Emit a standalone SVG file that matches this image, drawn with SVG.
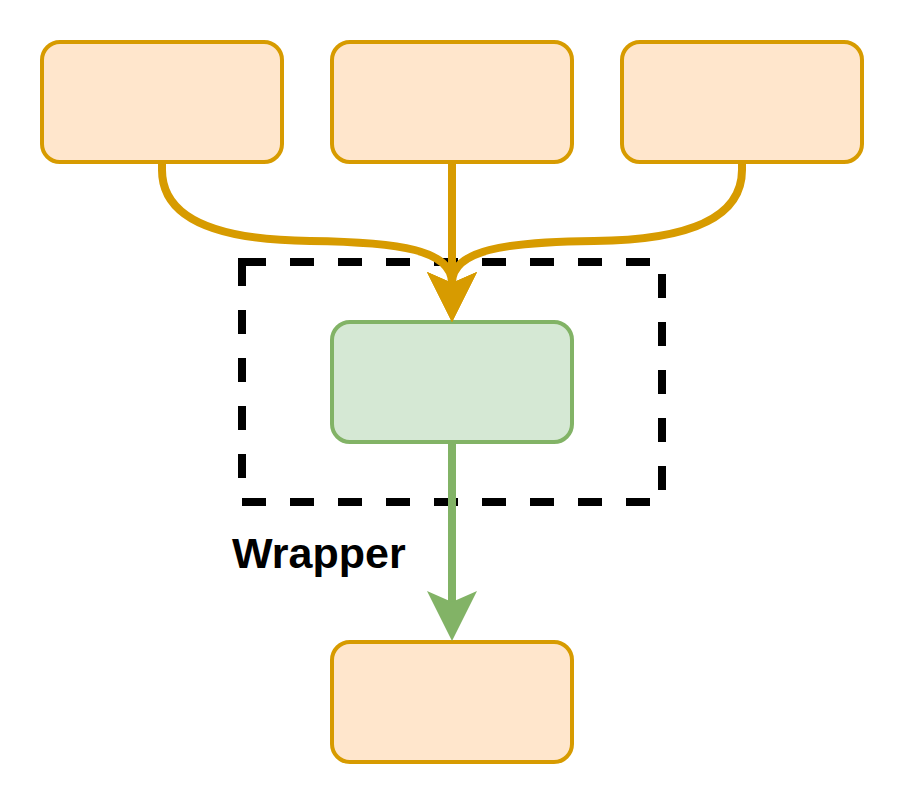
<svg xmlns="http://www.w3.org/2000/svg" width="904" height="804" viewBox="0 0 904 804">
  <style>
    .box { stroke-width: 4; }
    .orange { fill: #ffe6cc; stroke: #d79b00; }
    .green { fill: #d5e8d4; stroke: #82b366; }
    .wrapper { fill: none; stroke: #000000; stroke-width: 8; stroke-dasharray: 24 24; }
    .edge { fill: none; stroke-width: 8; }
    .edge-orange { stroke: #d79b00; marker-end: url(#arrow-orange); }
    .edge-green { stroke: #82b366; marker-end: url(#arrow-green); }
    .label { font-family: "Liberation Sans", Arial, sans-serif; font-weight: bold; font-size: 43px; fill: #000000; }
  </style>
  <defs>
    <marker id="arrow-orange" markerUnits="userSpaceOnUse" viewBox="-12 -26 52 52" refX="0" refY="0" markerWidth="52" markerHeight="52" orient="auto" overflow="visible">
      <path d="M39,0 L-11,-25 L0,0 L-11,25 Z" fill="#d79b00"/>
    </marker>
    <marker id="arrow-green" markerUnits="userSpaceOnUse" viewBox="-12 -26 52 52" refX="0" refY="0" markerWidth="52" markerHeight="52" orient="auto" overflow="visible">
      <path d="M39,0 L-11,-25 L0,0 L-11,25 Z" fill="#82b366"/>
    </marker>
  </defs>
  <rect width="904" height="804" fill="#ffffff"/>

  <g id="node-top-left"><rect class="box orange" x="42" y="42" width="240" height="120" rx="18" ry="18"/></g>
  <g id="node-top-center"><rect class="box orange" x="332" y="42" width="240" height="120" rx="18" ry="18"/></g>
  <g id="node-top-right"><rect class="box orange" x="622" y="42" width="240" height="120" rx="18" ry="18"/></g>
  <g id="node-inner"><rect class="box green" x="332" y="322" width="240" height="120" rx="18" ry="18"/></g>
  <g id="node-bottom"><rect class="box orange" x="332" y="642" width="240" height="120" rx="18" ry="18"/></g>

  <g id="wrapper">
    <rect class="wrapper" x="242" y="262" width="420" height="240"/>
    <text class="label" x="232" y="568">Wrapper</text>
  </g>

  <g id="connectors">
    <path class="edge edge-orange" d="M162,162 L162,170 C162,216 210,240 310,241 C400,242 452,250 452,283"/>
    <path class="edge edge-orange" d="M742,162 L742,170 C742,216 694,240 594,241 C504,242 452,250 452,283"/>
    <path class="edge edge-orange" d="M452,162 L452,283"/>
    <path class="edge edge-green" d="M452,442 L452,602"/>
  </g>
</svg>
